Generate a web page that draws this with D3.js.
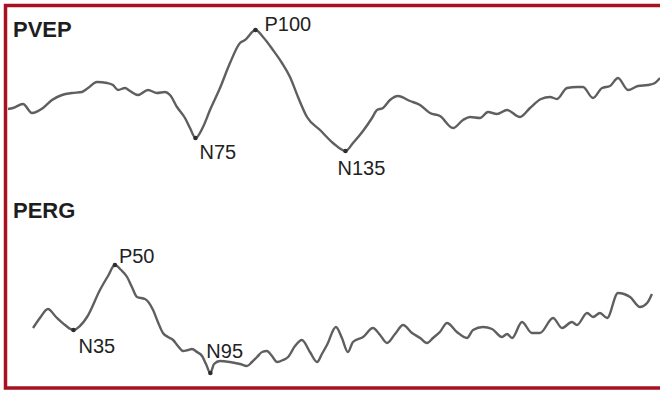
<!DOCTYPE html>
<html>
<head>
<meta charset="utf-8">
<script src="https://cdn.jsdelivr.net/npm/d3@7"></script>
<style>
  body { margin: 0; background: #fff; }
  svg { display: block; }
</style>
</head>
<body>
<div id="chart"></div>
<script>
// PVEP trace: time (ms) and amplitude (uV, arbitrary baseline)
var pvepTime = [0, 2, 6, 9.6, 14, 17.6, 21.6, 25.6, 29.6, 32, 35.6, 39.6, 42, 44, 46.8, 48.8, 52, 56, 59.6, 62.8,
  64.8, 67.6, 70.8, 72.8, 75, 78, 80.8, 84.8, 88.8, 92.8, 94.8, 99, 102, 106, 109.6, 112.8, 116, 119.6, 124.8, 130,
  135, 138, 142, 145.6, 147.6, 150, 152.8, 156, 160.8, 164.8, 168.8, 172.8, 178, 182, 184.8, 188.8, 192, 195.6, 199.6, 204.8,
  208.8, 213.2, 216.8, 219.6, 223.6, 227.6, 230, 234, 237.6, 240.8, 244, 248, 252, 256, 258.8, 260.8];
var pvepAmp = [0.1, 0.2, 0.6, -0.3, 0.2, 1.0, 1.5, 1.7, 1.8, 2.2, 2.8, 2.7, 2.5, 2.0, 2.2, 1.9, 1.5, 2.0, 1.7, 1.8,
  1.5, 0.3, -0.8, -1.8, -2.8, -1.7, 0, 2.2, 4.7, 6.7, 7.0, 8.0, 7.3, 6.0, 4.7, 3.3, 1.3, -0.7, -2.0, -3.3,
  -4.1, -3.3, -2.1, -0.8, 0, 0.2, 1.0, 1.4, 0.9, 0.5, -0.3, -0.6, -1.8, -1.0, -0.7, -0.8, -0.2, -0.4, 0, -0.7,
  0.2, 1.1, 1.3, 1.1, 2.2, 2.3, 2.3, 1.2, 2.2, 2.4, 3.2, 2.0, 2.4, 2.5, 2.7, 3.2];
var pvepPeakNames = ["N75", "P100", "N135"];
var pvepPeakTimes = [75, 99, 135];

// PERG trace
var pergTime = [17.4, 20.4, 23.9, 27.4, 31.3, 35, 37.8, 40.9, 46.5, 50, 53, 55.7, 58.3, 60.4, 62.6, 66.1, 69.6, 71.7, 73.9, 76.1,
  78.3, 80.4, 82.6, 84.8, 86.5, 88.7, 90.9, 92.6, 94.5, 96.1, 98.7, 103, 107.4, 110.4, 112.6, 114.8, 117, 119.1, 121.3, 123.5,
  126.1, 128.3, 131.3, 134.3, 137.8, 140.9, 143, 145.2, 149.1, 151.7, 154.3, 156.5, 160.9, 165.2, 168.3, 171.3, 174.8, 178.3, 182.2, 185.7,
  188.7, 191.3, 194.3, 197.4, 201.7, 206.1, 208.7, 213, 217, 221.3, 223.5, 225.7, 230, 234.3, 237.8, 243.5, 247.4, 251.7, 253.9, 258.3,
  260.9, 263.9, 267, 271.7, 277, 281.3, 284.4, 286.5];
var pergAmp = [1.2, 2.2, 3.1, 2.3, 1.5, 1.0, 1.4, 2.3, 5.0, 6.4, 7.5, 7.0, 6.3, 5.3, 4.3, 4.1, 3.0, 1.8, 0.7, 0.3,
  0, -0.6, -1.1, -1.0, -0.9, -1.2, -1.6, -2.4, -3.3, -2.4, -2.1, -2.2, -2.4, -2.6, -2.2, -1.7, -1.2, -1.1, -1.6, -2.2,
  -2.0, -1.7, -0.6, 0, -1.2, -2.2, -1.4, -0.5, 1.3, 0.2, -1.2, -0.2, 0.3, 1.2, 0.5, -0.3, 0.6, 1.5, 0.7, 0.2,
  -0.3, 0.2, 0.8, 1.7, 0.8, 0.2, 1.0, 1.3, 1.1, 0.3, 0.6, 0.2, 1.8, 0.7, 0.7, 2.2, 1.2, 1.8, 1.5, 2.7,
  2.3, 2.7, 2.2, 4.7, 4.3, 3.3, 3.7, 4.6];
var pergPeakNames = ["N35", "P50", "N95"];
var pergPeakTimes = [35, 53, 94.5];

var w = 660, h = 393;
var font = "'Liberation Sans', Arial, Helvetica, sans-serif";
var lineColor = "#5f5f5f";
var frameColor = "#a6121f";

// label placement relative to its peak point (px)
var labelOffset = {
  "N75": [4, 21], "P100": [9, 1], "N135": [-8, 24],
  "N35": [5, 23], "P50": [4, -2], "N95": [-4, -15]
};

var svg = d3.select("#chart").append("svg")
  .attr("width", w)
  .attr("height", h);

svg.append("rect")
  .attr("width", w).attr("height", h)
  .style("fill", "#fff");

function drawTrace(times, amps, peakNames, peakTimes, xs, ys, title, titleY) {
  var pts = times.map(function(t, i) { return {t: t, v: amps[i]}; });

  var line = d3.line()
    .x(function(d) { return xs(d.t); })
    .y(function(d) { return ys(d.v); })
    .curve(d3.curveMonotoneX);

  svg.append("path")
    .datum(pts)
    .attr("d", line)
    .style("fill", "none")
    .style("stroke", lineColor)
    .style("stroke-width", 2.4)
    .style("stroke-linejoin", "round");

  var peaks = peakNames.map(function(n, i) {
    var t = peakTimes[i];
    var p = pts.reduce(function(a, b) { return Math.abs(b.t - t) < Math.abs(a.t - t) ? b : a; });
    return {name: n, t: p.t, v: p.v};
  });

  svg.selectAll(".dot-" + title)
    .data(peaks)
    .enter()
    .append("circle")
    .attr("cx", function(d) { return xs(d.t); })
    .attr("cy", function(d) { return ys(d.v); })
    .attr("r", 2.3)
    .style("fill", "#2e2e2e");

  svg.selectAll(".lbl-" + title)
    .data(peaks)
    .enter()
    .append("text")
    .text(function(d) { return d.name; })
    .attr("x", function(d) { return xs(d.t) + labelOffset[d.name][0]; })
    .attr("y", function(d) { return ys(d.v) + labelOffset[d.name][1]; })
    .style("font-family", font)
    .style("font-size", "20px")
    .style("fill", "#222");

  svg.append("text")
    .text(title)
    .attr("x", 13)
    .attr("y", titleY)
    .style("font-family", font)
    .style("font-weight", "bold")
    .style("font-size", "22px")
    .style("fill", "#1e1e1e");
}

var xPvep = d3.scaleLinear().domain([0, 261]).range([8, 660.5]);
var yPvep = d3.scaleLinear().domain([-5, 10]).range([160, 10]);
drawTrace(pvepTime, pvepAmp, pvepPeakNames, pvepPeakTimes, xPvep, yPvep, "PVEP", 37);

var xPerg = d3.scaleLinear().domain([15, 290]).range([27.5, 660]);
var yPerg = d3.scaleLinear().domain([-5, 10]).range([390, 240]);
drawTrace(pergTime, pergAmp, pergPeakNames, pergPeakTimes, xPerg, yPerg, "PERG", 218);

// frame (open on the right side)
svg.append("rect")
  .attr("x", 5.5)
  .attr("y", 5.5)
  .attr("width", w + 10)
  .attr("height", 382.5)
  .style("fill", "none")
  .style("stroke", frameColor)
  .style("stroke-width", 3.5);
</script>
</body>
</html>
